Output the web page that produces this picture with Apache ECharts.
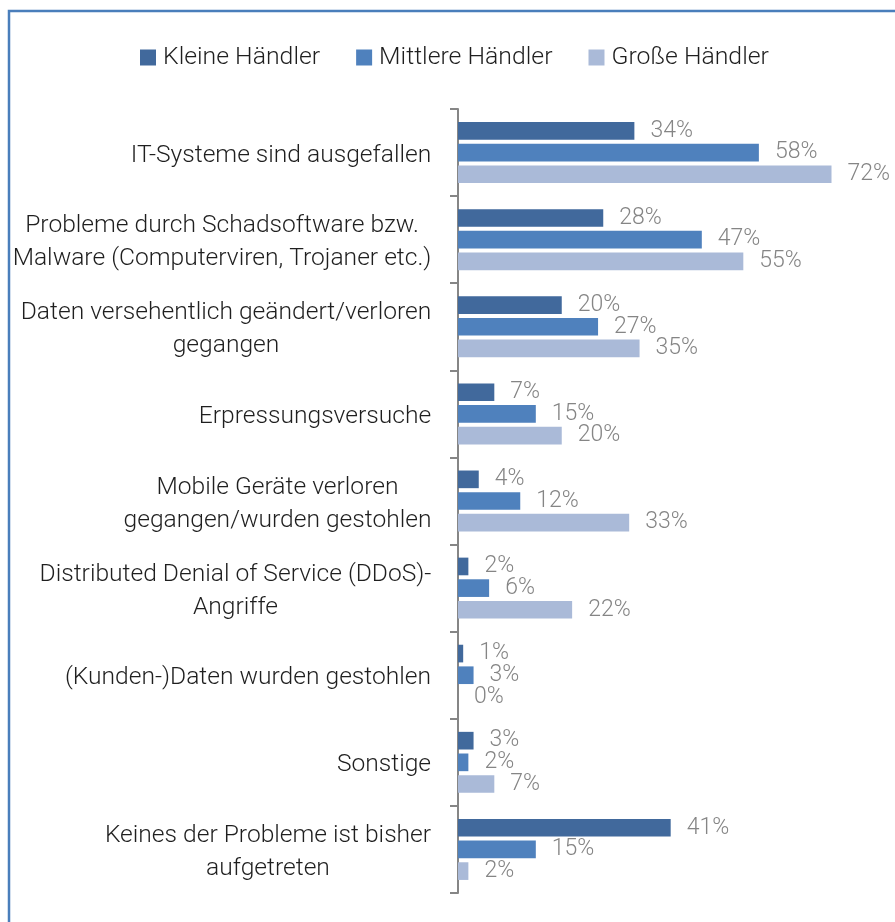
<!DOCTYPE html>
<html>
<head>
<meta charset="utf-8">
<script src="https://cdn.jsdelivr.net/npm/echarts@6/dist/echarts.min.js"></script>
<style>
  html, body { margin: 0; padding: 0; background: #ffffff; }
  #chart { width: 895px; height: 922px; }
</style>
</head>
<body>
<div id="chart"></div>
<script>
// Problem categories (top to bottom)
const categories = [
  'IT-Systeme sind ausgefallen',
  'Probleme durch Schadsoftware bzw.\nMalware (Computerviren, Trojaner etc.)',
  'Daten versehentlich geändert/verloren\ngegangen',
  'Erpressungsversuche',
  'Mobile Geräte verloren\ngegangen/wurden gestohlen',
  'Distributed Denial of Service (DDoS)-\nAngriffe',
  '(Kunden-)Daten wurden gestohlen',
  'Sonstige',
  'Keines der Probleme ist bisher\naufgetreten'
];

const seriesNames = ['Kleine Händler', 'Mittlere Händler', 'Große Händler'];

// Share of retailers in percent
const kleineHaendler   = [34, 28, 20, 7, 4, 2, 1, 3, 41];
const mittlereHaendler = [58, 47, 27, 15, 12, 6, 3, 2, 15];
const grosseHaendler   = [72, 55, 35, 20, 33, 22, 0, 7, 2];

const colors = ['#41699c', '#4f81bd', '#aabad8'];

const FONT = 'Roboto';
const WEIGHT = 300;
const CAT_SIZE = 24.6;
const LABEL_COLOR = '#1f1f1f';

// Measure the widest line of every category label so each multi-line
// label can be centred line by line while staying right-aligned to the axis.
const ctx = document.createElement('canvas').getContext('2d');
ctx.font = WEIGHT + ' ' + CAT_SIZE + 'px ' + FONT;
const rich = {};
categories.forEach(function (c, i) {
  const w = Math.max.apply(null, c.split('\n').map(function (l) { return ctx.measureText(l).width; }));
  rich['r' + i] = {
    width: Math.ceil(w) + 1,
    align: 'center',
    fontFamily: FONT,
    fontWeight: WEIGHT,
    fontSize: CAT_SIZE,
    lineHeight: 33,
    color: LABEL_COLOR
  };
});

const chart = echarts.init(document.getElementById('chart'), null, { renderer: 'canvas' });

function barSeries(name, data, color) {
  return {
    name: name,
    type: 'bar',
    data: data,
    barGap: '22.6%',
    barCategoryGap: '30%',
    itemStyle: { color: color },
    label: {
      show: true,
      position: 'right',
      distance: 16,
      formatter: '{c}%',
      fontFamily: FONT,
      fontWeight: WEIGHT,
      fontSize: 23,
      color: '#858585'
    },
    emphasis: { disabled: true }
  };
}

chart.setOption({
  animation: false,
  color: colors,
  graphic: [{
    type: 'rect',
    silent: true,
    z: -1,
    shape: { x: 9, y: 11, width: 1000, height: 1000 },
    style: { fill: 'none', stroke: '#4a7ebb', lineWidth: 2.5 }
  }],
  legend: {
    left: 135,
    top: 40,
    itemWidth: 16,
    itemHeight: 16,
    itemGap: 36,
    icon: 'rect',
    textStyle: {
      fontFamily: FONT,
      fontWeight: WEIGHT,
      fontSize: 24.8,
      color: LABEL_COLOR,
      padding: [0, 0, 0, 2]
    },
    data: seriesNames
  },
  grid: {
    left: 458,
    right: 22,
    top: 109,
    bottom: 29,
    containLabel: false,
    outerBoundsMode: 'none'
  },
  xAxis: {
    type: 'value',
    min: 0,
    max: 80,
    show: false
  },
  yAxis: {
    type: 'category',
    inverse: true,
    data: categories,
    axisLine: { show: true, lineStyle: { color: '#868686', width: 2 } },
    axisTick: { show: true, length: 8, lineStyle: { color: '#868686', width: 2 } },
    axisLabel: {
      margin: 26,
      interval: 0,
      padding: [6, 0, 0, 0],
      formatter: function (value, index) {
        return value.split('\n').map(function (l) { return '{r' + index + '|' + l + '}'; }).join('\n');
      },
      rich: rich
    },
    splitLine: { show: false }
  },
  series: [
    barSeries(seriesNames[0], kleineHaendler, colors[0]),
    barSeries(seriesNames[1], mittlereHaendler, colors[1]),
    barSeries(seriesNames[2], grosseHaendler, colors[2])
  ]
});
</script>
</body>
</html>
